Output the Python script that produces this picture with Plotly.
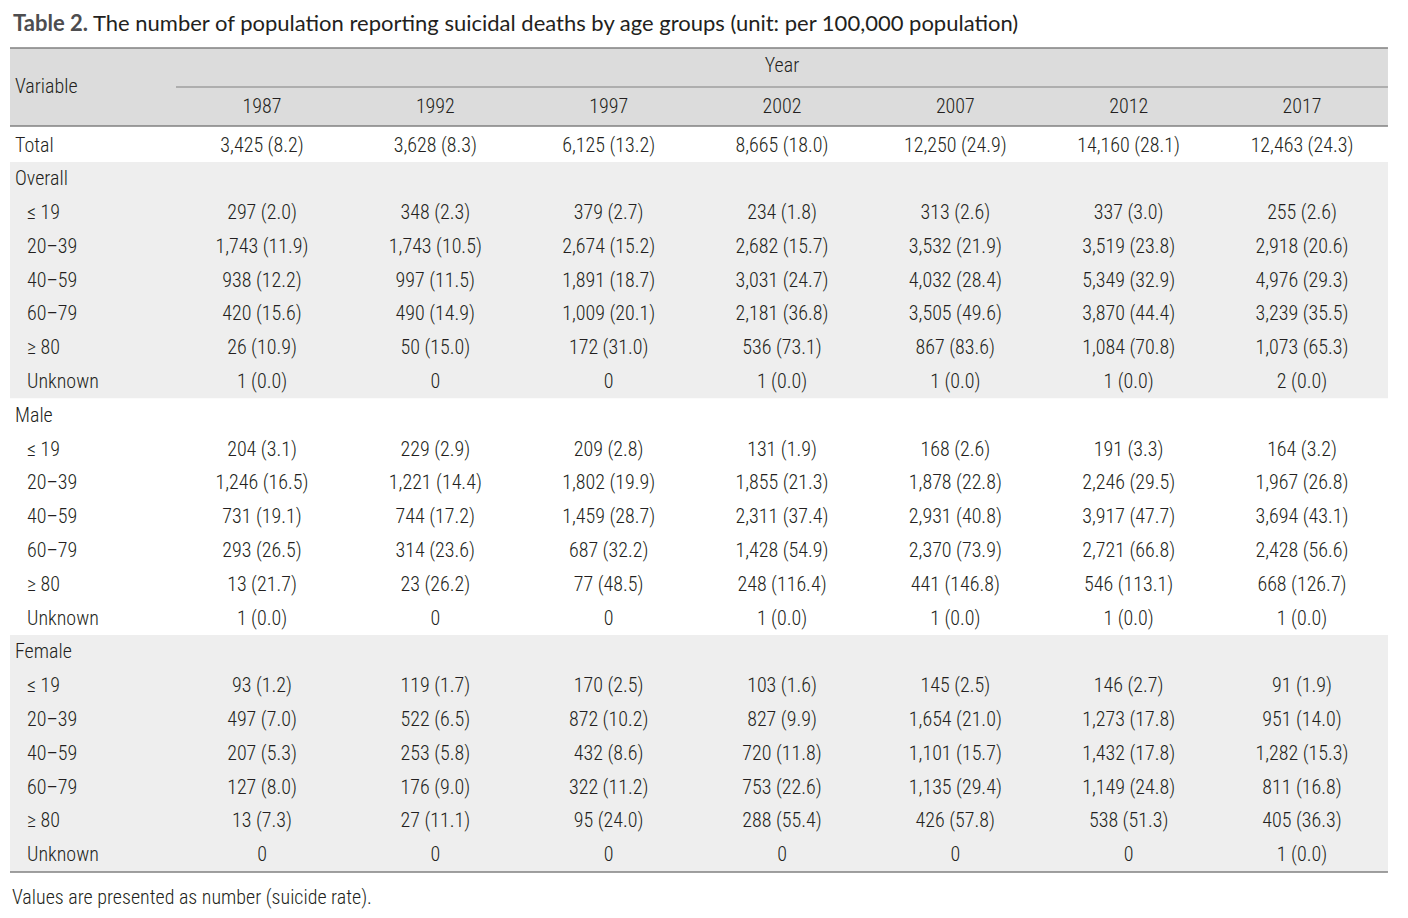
import plotly.graph_objects as go

# ---------------- data ----------------
years = [1987, 1992, 1997, 2002, 2007, 2012, 2017]
age_groups = ["≤ 19", "20–39", "40–59", "60–79", "≥ 80", "Unknown"]
groups = ["Overall", "Male", "Female"]

total_n = [3425, 3628, 6125, 8665, 12250, 14160, 12463]
total_rate = [8.2, 8.3, 13.2, 18.0, 24.9, 28.1, 24.3]

overall_n = [[297, 348, 379, 234, 313, 337, 255],
             [1743, 1743, 2674, 2682, 3532, 3519, 2918],
             [938, 997, 1891, 3031, 4032, 5349, 4976],
             [420, 490, 1009, 2181, 3505, 3870, 3239],
             [26, 50, 172, 536, 867, 1084, 1073],
             [1, 0, 0, 1, 1, 1, 2]]
overall_rate = [[2.0, 2.3, 2.7, 1.8, 2.6, 3.0, 2.6],
                [11.9, 10.5, 15.2, 15.7, 21.9, 23.8, 20.6],
                [12.2, 11.5, 18.7, 24.7, 28.4, 32.9, 29.3],
                [15.6, 14.9, 20.1, 36.8, 49.6, 44.4, 35.5],
                [10.9, 15.0, 31.0, 73.1, 83.6, 70.8, 65.3],
                [0.0, None, None, 0.0, 0.0, 0.0, 0.0]]

male_n = [[204, 229, 209, 131, 168, 191, 164],
          [1246, 1221, 1802, 1855, 1878, 2246, 1967],
          [731, 744, 1459, 2311, 2931, 3917, 3694],
          [293, 314, 687, 1428, 2370, 2721, 2428],
          [13, 23, 77, 248, 441, 546, 668],
          [1, 0, 0, 1, 1, 1, 1]]
male_rate = [[3.1, 2.9, 2.8, 1.9, 2.6, 3.3, 3.2],
             [16.5, 14.4, 19.9, 21.3, 22.8, 29.5, 26.8],
             [19.1, 17.2, 28.7, 37.4, 40.8, 47.7, 43.1],
             [26.5, 23.6, 32.2, 54.9, 73.9, 66.8, 56.6],
             [21.7, 26.2, 48.5, 116.4, 146.8, 113.1, 126.7],
             [0.0, None, None, 0.0, 0.0, 0.0, 0.0]]

female_n = [[93, 119, 170, 103, 145, 146, 91],
            [497, 522, 872, 827, 1654, 1273, 951],
            [207, 253, 432, 720, 1101, 1432, 1282],
            [127, 176, 322, 753, 1135, 1149, 811],
            [13, 27, 95, 288, 426, 538, 405],
            [0, 0, 0, 0, 0, 0, 1]]
female_rate = [[1.2, 1.7, 2.5, 1.6, 2.5, 2.7, 1.9],
               [7.0, 6.5, 10.2, 9.9, 21.0, 17.8, 14.0],
               [5.3, 5.8, 8.6, 11.8, 15.7, 17.8, 15.3],
               [8.0, 9.0, 11.2, 22.6, 29.4, 24.8, 16.8],
               [7.3, 11.1, 24.0, 55.4, 57.8, 51.3, 36.3],
               [None, None, None, None, None, None, 0.0]]

title_bold = "Table 2."
title_text = "The number of population reporting suicidal deaths by age groups (unit: per 100,000 population)"
footnote = "Values are presented as number (suicide rate)."

# ---------------- build ----------------
FONT = "Roboto Condensed, Liberation Sans Narrow, sans-serif"
TXT = "#231f20"
FS = 20


def fmt(n, r):
    s = f"{n:,}"
    if r is not None:
        s += f" ({r:.1f})"
    return s


rows = [("Total", False, total_n, total_rate)]
for g, ns, rs in zip(groups, [overall_n, male_n, female_n], [overall_rate, male_rate, female_rate]):
    rows.append((g, False, None, None))
    for i, a in enumerate(age_groups):
        rows.append((a, True, ns[i], rs[i]))

x_lab = 1979.875
x_ind = 1980.221
cx, cy, ct = [], [], []
lx, ly, lt = [], [], []
for r, (lab, ind, ns, rs) in enumerate(rows):
    lx.append(x_ind if ind else x_lab)
    ly.append(r)
    lt.append(lab)
    if ns is not None:
        for y, n, rt in zip(years, ns, rs):
            cx.append(y)
            cy.append(r)
            ct.append(fmt(n, rt))

x_left, x_right = 1979.731, 2019.48
y_top, y_year_line, y_head_bot = -2.915, -1.761, -0.607
y_bottom = 21.47

font = dict(family=FONT, size=FS, color=TXT, weight=300)

fig = go.Figure()

shapes = [
    dict(type="rect", xref="x", yref="y", x0=x_left, x1=x_right, y0=y_top, y1=y_head_bot,
         fillcolor="#dcdcdc", line_width=0, layer="below"),
    dict(type="rect", xref="x", yref="y", x0=x_left, x1=x_right, y0=0.46, y1=7.45,
         fillcolor="#eeeeee", line_width=0, layer="below"),
    dict(type="rect", xref="x", yref="y", x0=x_left, x1=x_right, y0=14.46, y1=y_bottom,
         fillcolor="#eeeeee", line_width=0, layer="below"),
    dict(type="line", xref="x", yref="y", x0=x_left, x1=x_right, y0=y_top, y1=y_top,
         line=dict(color="#808080", width=1.5)),
    dict(type="line", xref="x", yref="y", x0=1984.519, x1=x_right, y0=y_year_line, y1=y_year_line,
         line=dict(color="#808080", width=1.2)),
    dict(type="line", xref="x", yref="y", x0=x_left, x1=x_right, y0=y_head_bot, y1=y_head_bot,
         line=dict(color="#808080", width=1.5)),
    dict(type="line", xref="x", yref="y", x0=x_left, x1=x_right, y0=y_bottom, y1=y_bottom,
         line=dict(color="#808080", width=1.5)),
]

# header
fig.add_trace(go.Scatter(x=years, y=[-1.15] * len(years), mode="text", text=[str(y) for y in years],
                         textfont=font, hoverinfo="skip", showlegend=False))
fig.add_trace(go.Scatter(x=[2002], y=[-2.353], mode="text", text=["Year"],
                         textfont=font, hoverinfo="skip", showlegend=False))
fig.add_trace(go.Scatter(x=[x_lab], y=[-1.731], mode="text", text=["Variable"], textposition="middle right",
                         textfont=font, hoverinfo="skip", showlegend=False))
# row labels
fig.add_trace(go.Scatter(x=lx, y=ly, mode="text", text=lt, textposition="middle right",
                         textfont=font, hoverinfo="skip", showlegend=False))
# cells
fig.add_trace(go.Scatter(x=cx, y=cy, mode="text", text=ct, textposition="middle center",
                         textfont=font, hoverinfo="skip", showlegend=False))

annotations = [
    dict(xref="x", yref="y", x=1979.76, y=-3.68, xanchor="left", yanchor="middle", showarrow=False,
         text=f"<b><span style='color:#4d4d4f'>{title_bold}</span></b> {title_text}",
         font=dict(family="Lato, Noto Sans, sans-serif", size=22, color=TXT)),
    dict(xref="x", yref="y", x=1979.731, y=22.22, xanchor="left", yanchor="middle", showarrow=False,
         text=footnote, font=font),
]

fig.update_layout(
    width=1400, height=910, margin=dict(l=0, r=0, t=0, b=0),
    paper_bgcolor="white", plot_bgcolor="white",
    xaxis=dict(range=[1979.673, 2020.058], visible=False, fixedrange=True),
    yaxis=dict(range=[22.832, -4.099], visible=False, fixedrange=True),
    shapes=shapes, annotations=annotations, showlegend=False,
)

fig.write_html("out.html")
